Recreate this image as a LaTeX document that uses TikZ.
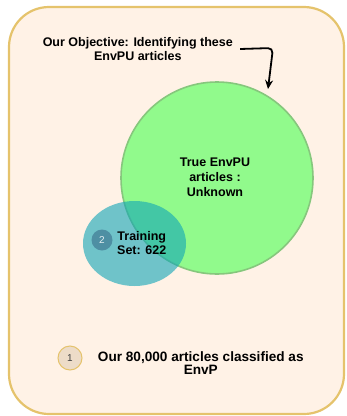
\documentclass[tikz,border=0pt]{standalone}
\usepackage{fontspec}
\setmainfont{Liberation Sans}
\usetikzlibrary{shapes.geometric,arrows.meta}

\definecolor{setfill}{HTML}{FFF2E6}
\definecolor{setedge}{HTML}{E5C36C}
\definecolor{puFill}{HTML}{91FA8C}
\definecolor{puEdge}{HTML}{86C77D}
\definecolor{trainFill}{HTML}{0FA5B7}
\definecolor{badgeTwo}{HTML}{4E8FA3}
\definecolor{badgeOne}{HTML}{EDDCC8}

\tikzset{
  lbl/.style={font=\fontsize{12.5}{14.8}\selectfont\bfseries, align=center, inner sep=2pt},
  lblbig/.style={lbl, font=\fontsize{13.6}{13.8}\selectfont\bfseries},
  badge/.style={circle, inner sep=0pt, font=\fontsize{10}{10}\selectfont},
}

\begin{document}
\begin{tikzpicture}[x=1pt,y=-1pt]
  \useasboundingbox (0,0) rectangle (347,416);
  % the whole set of articles
  \draw[line width=2.2pt, draw=setedge, fill=setfill, rounded corners=40pt] (9,7) rectangle (344,414);
  \node[circle, minimum size=192pt, fill=puFill, draw=puEdge, line width=1.6pt] (truepu) at (217,178) {};
  \node[lbl] (truelbl) at (215,177) {True EnvPU\\articles :\\Unknown};
  \node[ellipse, minimum width=103pt, minimum height=85pt, inner sep=0pt, fill=trainFill, fill opacity=0.6] (train) at (134.5,243.5) {};
  \node[badge, minimum size=21pt, fill=badgeTwo, text=white!85!badgeTwo] (two) at (102,240) {2};
  \node[lbl, right=2pt] (trainlbl) at (113,243) {Training\\Set: 622};
  % objective and arrow
  \node[lbl] (objective) at (137.8,49) {Our Objective: Identifying these\\EnvPU articles};
  \coordinate (tip) at (268,89);
  \draw[line width=1.8pt, rounded corners=5pt, -{Stealth[length=9pt,width=8pt]}]
    ([xshift=5pt]objective.east) -- (273,48) -- (tip);
  % legend
  \node[badge, minimum size=24pt, fill=badgeOne, draw=setedge, line width=1pt, text=black!75] (one) at (70,358) {1};
  \node[lblbig] (alllbl) at (200.8,363) {Our 80,000 articles classified as\\EnvP};
\end{tikzpicture}
\end{document}
